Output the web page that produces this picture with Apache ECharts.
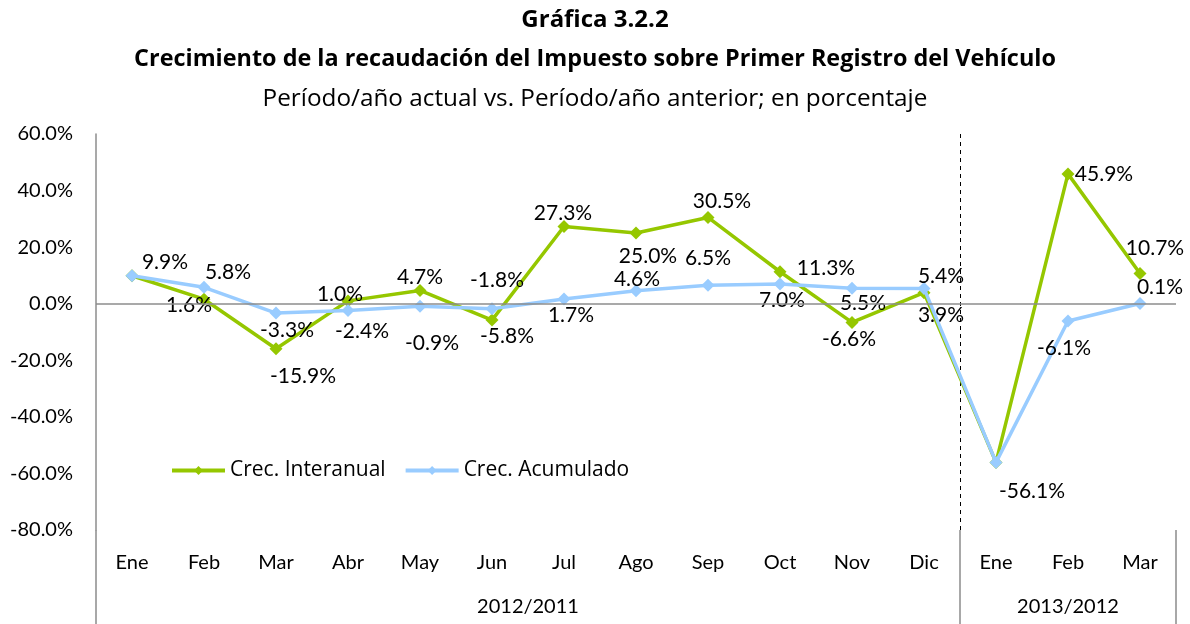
<!DOCTYPE html>
<html>
<head>
<meta charset="utf-8">
<script src="https://cdn.jsdelivr.net/npm/echarts@6/dist/echarts.min.js"></script>
<style>
html,body{margin:0;padding:0;background:#fff;}
#chart{width:1190px;height:624px;}
</style>
</head>
<body>
<div id="chart"></div>
<script>
// ---- data ----
var categories = ['Ene','Feb','Mar','Abr','May','Jun','Jul','Ago','Sep','Oct','Nov','Dic','Ene','Feb','Mar'];
var groupNames = ['2012/2011','2013/2012'];
var groupSizes = [12, 3];
var interanual = [9.9, 1.6, -15.9, 1.0, 4.7, -5.8, 27.3, 25.0, 30.5, 11.3, -6.6, 3.9, -56.1, 45.9, 10.7];
var acumulado  = [9.9, 5.8, -3.3, -2.4, -0.9, -1.8, 1.7, 4.6, 6.5, 7.0, 5.5, 5.4, -56.1, -6.1, 0.1];
var yTicks = { min: -80, max: 60, step: 20 };

// ---- label placement (styling, offsets of label centre from the marker) ----
var greenLabelOffsets = [[33,-13],[-15,6],[27,28],[-8,-7],[0,-13],[15,16],[-1,-13],[12,23],[14,-16],[46,-4],[-3,17],[17,23],null,[36,0],[15,-25]];
var blueLabelOffsets  = [null,[24,-15],[11,17],[14,21],[12,37],[5,-29],[7,16],[1,-11],[0,-27],[2,16],[11,15],[17,-12],[36,29],[-4,27],[20,-16]];

var FONT = '"Open Sans", Lato, sans-serif';
var FONT2 = 'Lato, "Open Sans", sans-serif';
var GREEN = '#95C700';
var BLUE = '#99CCFF';

function pct(v){ return v.toFixed(1) + '%'; }
function buildData(values, offsets){
  return values.map(function(v, i){
    var o = offsets[i];
    return {
      value: v,
      label: o ? { show: true, offset: o } : { show: false }
    };
  });
}
// group label positions on a 0..N value axis
var groupCenters = [], acc = 0;
groupSizes.forEach(function(s){ groupCenters.push(acc + s/2); acc += s; });

var chart = echarts.init(document.getElementById('chart'), null, {renderer:'canvas'});
var labelCommon = {
  position: 'inside', align: 'center', verticalAlign: 'middle',
  fontFamily: FONT2, fontSize: 21, color: '#000',
  formatter: function(p){ return pct(p.value); }
};
chart.setOption({
  animation: false,
  backgroundColor: '#fff',
  title: [
    { text: 'Gráfica 3.2.2', left: 'center', top: 3,
      textStyle: { fontFamily: FONT, fontSize: 24, fontWeight: 'bold', color: '#000' } },
    { text: 'Crecimiento de la recaudación del Impuesto sobre Primer Registro del Vehículo', left: 'center', top: 43,
      textStyle: { fontFamily: FONT, fontSize: 23.4, fontWeight: 'bold', color: '#000' } },
    { text: 'Período/año actual vs. Período/año anterior; en porcentaje', left: 'center', top: 82,
      textStyle: { fontFamily: FONT, fontSize: 24.3, fontWeight: 'normal', color: '#000' } }
  ],
  legend: {
    left: 165, top: 455,
    itemWidth: 53, itemHeight: 11, itemGap: 18,
    lineStyle: { width: 4 },
    textStyle: { fontFamily: FONT, fontSize: 21, color: '#000' },
    data: ['Crec. Interanual', 'Crec. Acumulado']
  },
  grid: { left: 96, right: 14, top: 134, bottom: 94, containLabel: false },
  xAxis: [
    {
      type: 'category', data: categories, boundaryGap: true,
      axisLine: { show: false }, axisTick: { show: false },
      axisLabel: { fontFamily: FONT2, fontSize: 20, color: '#000', margin: 23, interval: 0 }
    },
    {
      type: 'value', min: 0, max: categories.length, interval: groupSizes[0], position: 'bottom',
      axisLine: { show: false },
      axisTick: { show: true, length: 94, lineStyle: { color: '#8c8c8c', width: 1.5 } },
      axisLabel: {
        show: true, customValues: groupCenters, margin: 67,
        fontFamily: FONT2, fontSize: 20, color: '#000',
        formatter: function(v){ var i = groupCenters.indexOf(v); return i >= 0 ? groupNames[i] : ''; }
      },
      splitLine: { show: true, showMinLine: false, showMaxLine: false,
        lineStyle: { color: '#000', type: [4, 4], width: 1 } }
    }
  ],
  yAxis: {
    type: 'value', min: yTicks.min, max: yTicks.max, interval: yTicks.step,
    axisLine: { show: true, lineStyle: { color: '#8c8c8c', width: 1.5 } },
    axisTick: { show: false },
    splitLine: { show: false },
    axisLabel: { fontFamily: FONT2, fontSize: 20, color: '#000', margin: 23, formatter: function(v){ return pct(v); } }
  },
  series: [
    {
      name: 'Crec. Interanual', type: 'line', xAxisIndex: 0, z: 2,
      data: buildData(interanual, greenLabelOffsets),
      symbol: 'diamond', symbolSize: 13, showAllSymbol: true,
      itemStyle: { color: GREEN },
      lineStyle: { color: GREEN, width: 3.5 },
      label: labelCommon,
      markLine: {
        silent: true, symbol: ['none','none'], label: { show: false },
        lineStyle: { color: '#8c8c8c', type: 'solid', width: 1.5 },
        data: [{ yAxis: 0 }]
      }
    },
    {
      name: 'Crec. Acumulado', type: 'line', xAxisIndex: 0, z: 3,
      data: buildData(acumulado, blueLabelOffsets),
      symbol: 'diamond', symbolSize: 13, showAllSymbol: true,
      itemStyle: { color: BLUE },
      lineStyle: { color: BLUE, width: 3.5 },
      label: labelCommon
    }
  ]
});
</script>
</body>
</html>
